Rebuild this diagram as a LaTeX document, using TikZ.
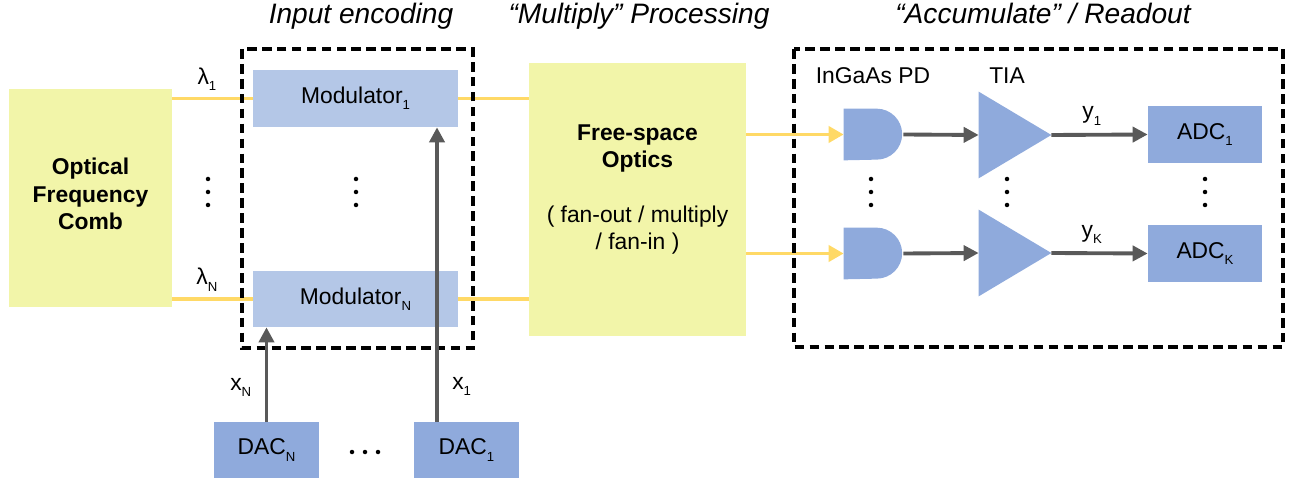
\documentclass[tikz,border=0pt]{standalone}
\usepackage{fontspec}
\setmainfont{Liberation Sans}
\usetikzlibrary{arrows.meta}
\definecolor{combyellow}{HTML}{F2F5A9}
\definecolor{modblue}{HTML}{B4C7E7}
\definecolor{devblue}{HTML}{8FAADC}
\definecolor{beamyellow}{HTML}{FFD966}
\definecolor{wiregray}{HTML}{595959}
\newcommand{\lo}[1]{\raisebox{-3.6pt}{\fontsize{7.5}{9}\selectfont#1}}
\begin{document}
\begin{tikzpicture}[x=0.02cm,y=-0.02cm,
    every node/.style={font=\fontsize{13}{15.6}\selectfont},
    box/.style={inner sep=0pt,align=center},
    beam/.style={draw=beamyellow,line width=2.2pt},
    beamarrow/.style={beam,-{Triangle[length=0.3cm,width=0.32cm]}},
    wire/.style={draw=wiregray,line width=2.2pt,-{Triangle[length=0.3cm,width=0.3cm]}},
    group/.style={line width=1.9pt,dash pattern=on 5.5pt off 3pt},
    title/.style={font=\fontsize{16}{19}\selectfont\itshape,anchor=base}]
  \useasboundingbox (0,0) rectangle (1297,482);
  \node[title] (ttlin) at (361,24) {Input encoding};
  \node[title] (ttlmul) at (639,24) {“Multiply” Processing};
  \node[title] (ttlacc) at (1043,24) {“Accumulate” / Readout};
  \node[box,fill=combyellow,minimum width=3.26cm,minimum height=4.36cm] (comb) at (90.5,198) {};
  \node[box,font=\fontsize{13}{15.6}\selectfont\bfseries] (combtxt) at (90.5,194) {Optical\\Frequency\\Comb};
  \node[box,fill=modblue,minimum width=4.1cm,minimum height=1.14cm] (mod1) at (355.5,98.5) {Modulator\lo{1}};
  \node[box,fill=modblue,minimum width=4.1cm,minimum height=1.12cm] (modN) at (355.5,299) {Modulator\lo{N}};
  \node[box,fill=combyellow,minimum width=4.34cm,minimum height=5.46cm] (fso) at (637.5,199.5) {};
  \node[box] (fsotxt) at (637.5,189.5) {\textbf{Free-space}\\\textbf{Optics}\\[15.6pt]( fan-out / multiply\\/ fan-in )};
  \node[box,fill=devblue,minimum width=2.1cm,minimum height=1.12cm] (dacN) at (266.5,450) {DAC\lo{N}};
  \node[box,fill=devblue,minimum width=2.1cm,minimum height=1.12cm] (dac1) at (466.5,450) {DAC\lo{1}};
  \node[box,minimum width=1.18cm,minimum height=1.02cm] (pd1) at (873.5,134.5) {};
  \node[box,minimum width=1.18cm,minimum height=1.02cm] (pdK) at (873.5,253.5) {};
  \node[box,minimum width=1.44cm,minimum height=1.72cm] (tia1) at (1015,135) {};
  \node[box,minimum width=1.44cm,minimum height=1.72cm] (tiaK) at (1015,253) {};
  \node[box,fill=devblue,minimum width=2.28cm,minimum height=1.14cm] (adc1) at (1205,134.5) {ADC\lo{1}};
  \node[box,fill=devblue,minimum width=2.28cm,minimum height=1.14cm] (adcK) at (1205,253.5) {ADC\lo{K}};
  \node[anchor=base] (pdlbl) at (873,84) {InGaAs PD};
  \node[anchor=base] (tialbl) at (1007,84) {TIA};
  \foreach \pd in {pd1,pdK}
    \fill[devblue] (\pd.north west) -- ++(33,0) arc[start angle=90,end angle=-90,radius=0.51cm] -- (\pd.south west) -- cycle;
  \foreach \tia in {tia1,tiaK}
    \fill[devblue] (\tia.north west) -- (\tia.east) -- (\tia.south west) -- cycle;
  \foreach \x in {208,356,871,1007,1205}
    \foreach \y in {179,192,205}
      \fill (\x,\y) circle[radius=0.045cm];
  \foreach \x in {352,365,378}
    \fill (\x,452) circle[radius=0.045cm];
  \draw[beam] (comb.east |- mod1.west) -- node[above=0pt,pos=0.43] {λ\lo{1}} (mod1.west);
  \draw[beam] (comb.east |- modN.west) -- node[above=0pt,pos=0.43] {λ\lo{N}} (modN.west);
  \draw[beam] (mod1.east) -- (mod1.east -| fso.west);
  \draw[beam] (modN.east) -- (modN.east -| fso.west);
  \draw[beamarrow] (fso.east |- pd1.west) -- (pd1.west);
  \draw[beamarrow] (fso.east |- pdK.west) -- (pdK.west);
  \draw[group] (242,49) rectangle (473,348);
  \draw[group] (794,49) rectangle (1283,347);
  \draw[wire] (pd1.east) -- (tia1.west);
  \draw[wire] (pdK.east) -- (tiaK.west);
  \draw[wire] (tia1.east) -- node[above=1pt,pos=0.42] {y\lo{1}} (adc1.west);
  \draw[wire] (tiaK.east) -- node[above=1pt,pos=0.42] {y\lo{K}} (adcK.west);
  \draw[wire] (dacN.north) -- node[left=0.15cm,pos=0.36] {x\lo{N}} (dacN.north |- modN.south);
  \coordinate (x1foot) at ([xshift=-0.59cm]dac1.north);
  \draw[wire] (x1foot) -- node[right=0.15cm,pos=0.12] {x\lo{1}} (x1foot |- mod1.south);
\end{tikzpicture}
\end{document}
